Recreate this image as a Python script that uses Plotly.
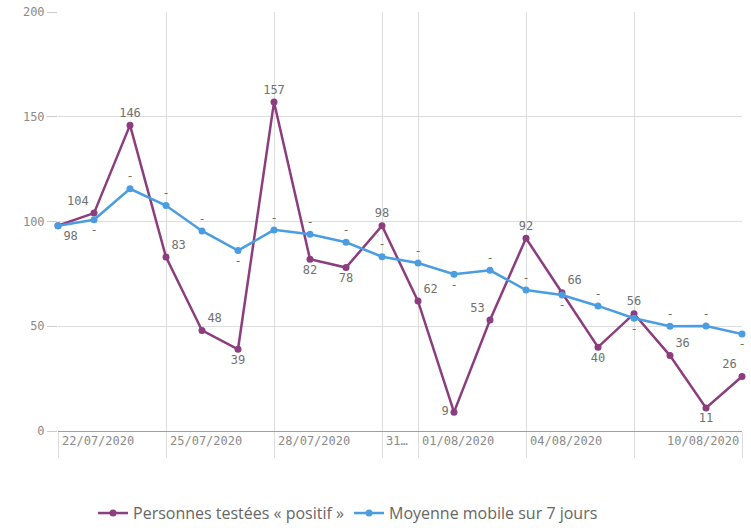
import plotly.graph_objects as go
import pandas as pd

dates = pd.date_range("2020-07-22", "2020-08-10", freq="D").strftime("%Y-%m-%d").tolist()
positifs = [98, 104, 146, 83, 48, 39, 157, 82, 78, 98, 62, 9, 53, 92, 66, 40, 56, 36, 11, 26]
moyenne = [98, 100.8, 115.6, 107.6, 95.5, 86.1, 96, 93.9, 90.1, 83.2, 80.2, 74.8, 76.7,
           67.3, 64.9, 59.7, 53.8, 50, 50.1, 46.3]
moyenne_labels = [""] + ["-"] * 19

tick_dates = ["2020-07-22", "2020-07-25", "2020-07-28", "2020-07-31", "2020-08-01",
              "2020-08-04", "2020-08-07", "2020-08-10"]
tick_labels = ["22/07/2020", "25/07/2020", "28/07/2020", "31…", "01/08/2020",
               "04/08/2020", "", "10/08/2020"]
y_ticks = [0, 50, 100, 150, 200]

purple = "#8B3D7E"
blue = "#4A9DE0"
mono = "DejaVu Sans Mono"

pos_purple = ["bottom right", "top left", "top center", "top right", "top right",
              "bottom center", "top center", "bottom center", "bottom center", "top center",
              "top right", "middle left", "top left", "top center", "top right",
              "bottom center", "top center", "top right", "bottom center", "top left"]
pos_blue = ["top center", "bottom center", "top center", "top center", "top center",
            "bottom center", "top center", "top center", "top center", "top center",
            "top center", "bottom center", "top center", "top center", "bottom center",
            "top center", "bottom center", "top center", "top center", "bottom center"]

fig = go.Figure()
fig.add_trace(go.Scatter(
    x=dates, y=positifs, name="Personnes testées « positif »",
    mode="lines+markers+text", text=[str(v) for v in positifs],
    textposition=pos_purple,
    textfont=dict(family=mono, size=12, color="#707070"),
    line=dict(color=purple, width=2.5), marker=dict(color=purple, size=7),
    cliponaxis=False,
))
fig.add_trace(go.Scatter(
    x=dates, y=moyenne, name="Moyenne mobile sur 7 jours",
    mode="lines+markers+text", text=moyenne_labels,
    textposition=pos_blue,
    textfont=dict(family=mono, size=12, color="#707070"),
    line=dict(color=blue, width=2.5), marker=dict(color=blue, size=7),
    cliponaxis=False,
))

annotations = []
for d, lab in zip(tick_dates, tick_labels):
    if not lab:
        continue
    last = d == tick_dates[-1]
    annotations.append(dict(
        x=d, xref="x", y=0, yref="paper", yanchor="top",
        xanchor="right" if last else "left", xshift=-1 if last else 2, yshift=-1,
        text=lab, showarrow=False,
        font=dict(family=mono, size=12, color="#8a8a8a"),
    ))

fig.update_layout(
    width=751, height=528,
    margin=dict(l=58, r=9, t=12, b=97, autoexpand=False),
    paper_bgcolor="white", plot_bgcolor="white",
    showlegend=True,
    legend=dict(orientation="h", x=0.424, xanchor="center", y=-0.196, yanchor="middle",
                font=dict(family="Open Sans", size=16, color="#666666"),
                itemwidth=30, traceorder="normal"),
    annotations=annotations,
)
fig.update_xaxes(
    type="date", range=[dates[0], dates[-1]], automargin=False,
    tickvals=tick_dates, showticklabels=False,
    ticks="outside", ticklen=26, tickcolor="#dddddd", tickwidth=1,
    showgrid=True, gridcolor="#dddddd", gridwidth=1,
    showline=True, linecolor="#a0a0a0", linewidth=1,
    zeroline=False,
)
fig.update_yaxes(
    range=[0, 200], tickvals=y_ticks, automargin=False,
    ticks="outside", ticklen=10, tickcolor="#cccccc",
    showgrid=True, gridcolor="#dddddd", gridwidth=1,
    zeroline=False, showline=False,
    tickfont=dict(family=mono, size=12, color="#8a8a8a"),
)

fig.write_html(
    "out.html",
    config={"displayModeBar": False},
    post_script="document.body.style.margin='0';document.body.style.overflow='hidden';",
)
